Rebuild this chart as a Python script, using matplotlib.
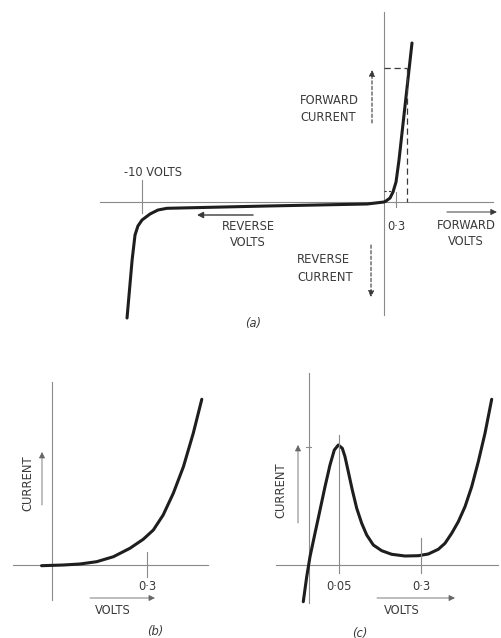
import numpy as np
import matplotlib
matplotlib.use("Agg")
import matplotlib.pyplot as plt

# ---------------- data ----------------
# (a) germanium diode characteristic: volts vs current (arbitrary units)
a_volts = [-10.62, -10.41, -10.29, -10.17, -10.0, -9.67, -9.34, -8.97,
           -4.83, -0.70, 0.0, 0.05, 0.149, 0.223, 0.298, 0.372, 0.694]
a_current = [-11.6, -5.8, -3.3, -2.4, -1.8, -1.2, -0.8, -0.63,
             -0.4, -0.2, 0.0, 0.1, 0.4, 1.0, 2.0, 4.2, 15.9]
a_tick_volts = [-10.0, 0.3]
a_tick_labels = ["-10 VOLTS", "0·3"]
a_marker_volts = 0.57       # dashed construction lines
a_marker_current = 13.4
a_knee_current = 1.1

# (b) forward characteristic
b_volts = [-0.033, 0.036, 0.088, 0.141, 0.194, 0.246, 0.288, 0.320,
           0.351, 0.383, 0.415, 0.446, 0.473]
b_current = [-0.07, 0.0, 0.1, 0.33, 0.83, 1.67, 2.57, 3.5,
             5.0, 7.17, 9.83, 13.17, 16.57]
b_tick_volts = [0.3]
b_tick_labels = ["0·3"]

# (c) tunnel diode characteristic
c_volts = [-0.0087, -0.0030, 0.0025, 0.0108, 0.0192, 0.0275, 0.0358,
           0.0430, 0.0497, 0.0615, 0.0697, 0.0797, 0.0918, 0.1052,
           0.1203, 0.1355, 0.1555, 0.1809, 0.2112, 0.2515, 0.2918,
           0.3221, 0.3524, 0.3727, 0.3930, 0.4130, 0.4333, 0.4536,
           0.4736, 0.4939, 0.5142]
c_current = [-3.67, -1.17, 0.83, 3.17, 5.5, 7.83, 10.0,
             11.5, 12.0, 11.67, 10.83, 9.33, 7.5, 5.67,
             4.17, 3.0, 2.0, 1.43, 1.07, 0.9, 0.93,
             1.1, 1.57, 2.17, 3.17, 4.33, 5.83, 7.83,
             10.33, 13.17, 16.57]
c_tick_volts = [0.05, 0.3]
c_tick_labels = ["0·05", "0·3"]
c_peak_current = 12.0

# ---------------- styling ----------------
W, H = 501, 638
AXC = "#8a8a8a"
TXT = "#3a3a3a"
CUR = "#1e1e1e"
FS = 8.3
plt.rcParams['font.family'] = ['DejaVu Sans']

fig = plt.figure(figsize=(W / 100, H / 100), dpi=100)
fig.patch.set_facecolor("white")


def add_ax(l, t, r, b):
    ax = fig.add_axes([l / W, 1 - b / H, (r - l) / W, (b - t) / H])
    ax.set_facecolor("none")
    ax.axis("off")
    return ax


def arrow(ax, tail, head, ls="-", lw=0.8, color=TXT, ms=9):
    ax.annotate("", xy=head, xytext=tail,
                arrowprops=dict(arrowstyle="-|>", color=color, lw=lw,
                                linestyle=ls, mutation_scale=ms,
                                shrinkA=0, shrinkB=0))


def curve(ax, x, y):
    ax.plot(x, y, color=CUR, lw=2.2, solid_capstyle="round",
            solid_joinstyle="round")


# ---------------- panel (a) ----------------
axa = add_ax(0, 0, 501, 345)
fa = lambda v: np.where(np.asarray(v) > 0, np.asarray(v) * 5 / 3, np.asarray(v))
ia = lambda u: np.where(np.asarray(u) > 0, np.asarray(u) * 0.6, np.asarray(u))
axa.set_xscale("function", functions=(fa, ia))
axa.set_xlim(-15.87, 2.901)
axa.set_ylim(-14.3, 20.2)

axa.plot([-11.74, 2.70], [0, 0], color=AXC, lw=0.8)
axa.plot([0, 0], [-11.3, 19.0], color=AXC, lw=0.8)
curve(axa, a_volts, a_current)
# ticks
axa.plot([a_tick_volts[0]] * 2, [2.2, -1.1], color=AXC, lw=0.8)
axa.plot([a_tick_volts[1]] * 2, [1.0, -0.5], color=AXC, lw=0.8)
axa.text(-9.55, 3.0, a_tick_labels[0], ha="center", va="center",
         fontsize=FS, color=TXT)
axa.text(a_tick_volts[1], -2.5, a_tick_labels[1], ha="center", va="center",
         fontsize=FS, color=TXT)
# dashed construction lines
axa.plot([0, a_marker_volts], [a_marker_current] * 2, color=TXT, lw=0.9,
         ls=(0, (5, 3)))
axa.plot([a_marker_volts] * 2, [a_marker_current, 0], color=TXT, lw=0.9,
         ls=(0, (5, 3)))
axa.plot([0, 0.2], [a_knee_current] * 2, color=TXT, lw=0.8, ls=(0, (2, 2)))
# labels and arrows
axa.text(-3.47, 9.3, "FORWARD\nCURRENT", ha="left", va="center",
         fontsize=FS, color=TXT, linespacing=1.45)
arrow(axa, (-0.496, 7.9), (-0.496, 13.2), ls=(0, (3, 2)))
axa.text(-5.62, -3.3, "REVERSE\nVOLTS", ha="center", va="center",
         fontsize=FS, color=TXT, linespacing=1.3)
arrow(axa, (-5.41, -1.3), (-7.73, -1.3), lw=1.0)
axa.text(-3.60, -6.65, "REVERSE\nCURRENT", ha="left", va="center",
         fontsize=FS, color=TXT, linespacing=1.45)
arrow(axa, (-0.537, -4.3), (-0.537, -9.5), ls=(0, (3, 2)))
axa.text(2.03, -3.15, "FORWARD\nVOLTS", ha="center", va="center",
         fontsize=FS, color=TXT, linespacing=1.3)
arrow(axa, (1.56, -1.0), (2.80, -1.0), lw=0.7)
axa.text(-5.41, -12.1, "(a)", ha="center", va="center", fontsize=FS,
         color=TXT, style="italic")

# ---------------- panel (b) ----------------
axb = add_ax(0, 345, 250, 638)
axb.set_xlim(-0.1642, 0.6252)
axb.set_ylim(-7.3, 22.0)
axb.plot([-0.123, 0.493], [0, 0], color=AXC, lw=0.8)
axb.plot([0, 0], [-3.5, 18.3], color=AXC, lw=0.8)
curve(axb, b_volts, b_current)
for v, lab in zip(b_tick_volts, b_tick_labels):
    axb.plot([v, v], [1.3, -1.2], color=AXC, lw=0.8)
    axb.text(v, -2.1, lab, ha="center", va="center", fontsize=FS, color=TXT)
axb.text(0.193, -4.6, "VOLTS", ha="center", va="center", fontsize=FS,
         color=TXT)
arrow(axb, (0.120, -3.3), (0.325, -3.3), lw=0.6, color="#666")
axb.text(-0.0758, 8.2, "CURRENT", ha="center", va="center", fontsize=FS,
         color=TXT, rotation=90)
arrow(axb, (-0.0316, 6.0), (-0.0316, 11.3), lw=0.6, color="#666")
axb.text(0.325, -6.7, "(b)", ha="center", va="center", fontsize=FS,
         color=TXT, style="italic")

# ---------------- panel (c) ----------------
axc = add_ax(250, 345, 501, 638)
cv = [-10.0, 0.0, 0.05, 0.3, 10.0]
cu = [-6000.0, 0.0, 30.0, 112.5, 112.5 + 9.7 * 330]
fc = lambda v: np.interp(np.asarray(v, dtype=float), cv, cu)
ic = lambda u: np.interp(np.asarray(u, dtype=float), cu, cv)
axc.set_xscale("function", functions=(fc, ic))
axc.set_xlim(-0.0975, 0.5424)
axc.set_ylim(-7.3, 22.0)
axc.plot([-0.0542, 0.5333], [0, 0], color=AXC, lw=0.8)
axc.plot([0, 0], [-3.8, 19.2], color=AXC, lw=0.8)
axc.plot([-0.0042, 0.0042], [c_peak_current - 0.2] * 2, color=AXC, lw=0.8)
curve(axc, c_volts, c_current)
for v, lab, top in zip(c_tick_volts, c_tick_labels, [13.0, 2.7]):
    axc.plot([v, v], [top, -0.8], color=AXC, lw=0.8)
    axc.text(v, -2.1, lab, ha="center", va="center", fontsize=FS, color=TXT)
axc.text(0.2424, -4.6, "VOLTS", ha="center", va="center", fontsize=FS,
         color=TXT)
arrow(axc, (0.1667, -3.3), (0.403, -3.3), lw=0.6, color="#666")
axc.text(-0.0458, 7.5, "CURRENT", ha="center", va="center", fontsize=FS,
         color=TXT, rotation=90)
arrow(axc, (-0.0175, 4.2), (-0.0175, 12.0), lw=0.6, color="#666")
axc.text(0.1152, -6.8, "(c)", ha="center", va="center", fontsize=FS,
         color=TXT, style="italic")

fig.savefig("out.png", dpi=100, facecolor="white")
